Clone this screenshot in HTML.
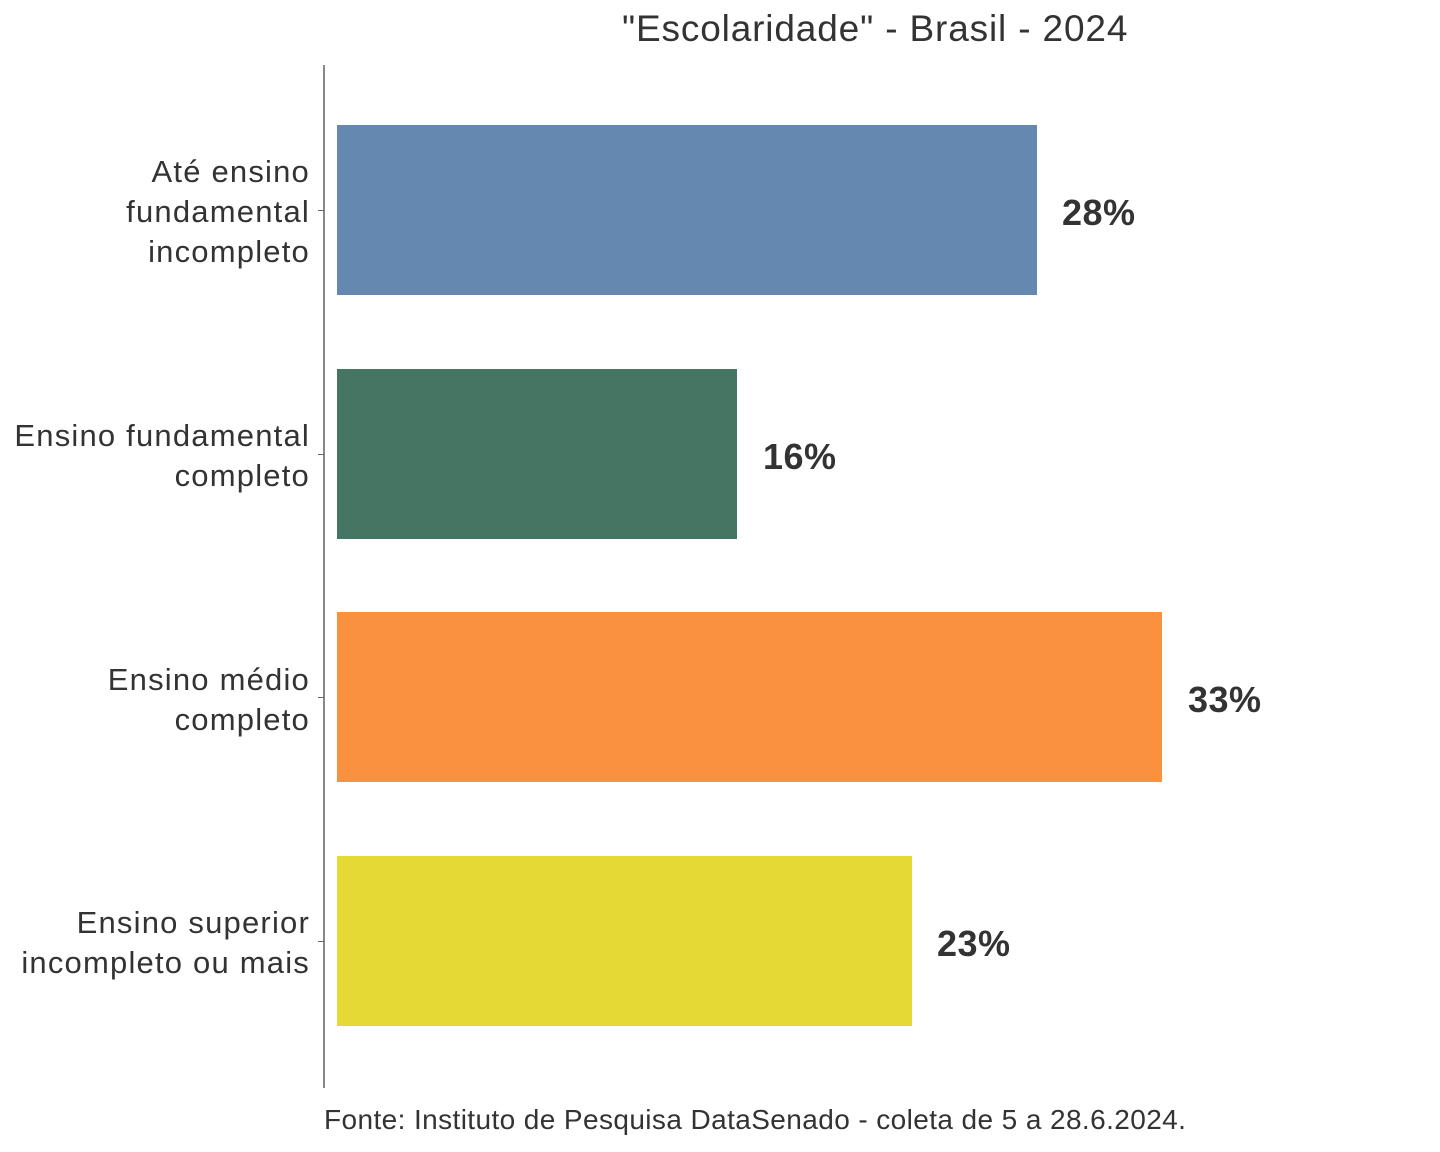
<!DOCTYPE html>
<html><head><meta charset="utf-8"><style>
body{margin:0;width:1440px;height:1152px;background:#fff;font-family:"Liberation Sans",sans-serif;color:#333;position:relative;overflow:hidden}
div{position:absolute}
.l{right:1130px;text-align:right;font-size:31px;letter-spacing:1.2px;line-height:40px;color:#333;white-space:nowrap}
.v{font-size:36px;font-weight:bold;color:#333;letter-spacing:0.5px}
.t{width:6px;height:1px;background:#666;left:318px}
</style></head><body>
<div style="left:622px;top:8px;font-size:37px;letter-spacing:0.85px;white-space:nowrap">"Escolaridade" - Brasil - 2024</div>
<div style="left:323px;top:65px;width:2px;height:1023px;background:#888"></div>
<div style="left:337px;top:125px;width:700px;height:170px;background:#6588b0"></div>
<div style="left:337px;top:369px;width:400px;height:170px;background:#457563"></div>
<div style="left:337px;top:612px;width:825px;height:170px;background:#fa913e"></div>
<div style="left:337px;top:856px;width:575px;height:170px;background:#e5d935"></div>
<div class="v" style="left:1062px;top:192px">28%</div>
<div class="v" style="left:763px;top:436px">16%</div>
<div class="v" style="left:1188px;top:679px">33%</div>
<div class="v" style="left:937px;top:923px">23%</div>
<div class="t" style="top:210px"></div><div class="t" style="top:454px"></div><div class="t" style="top:697px"></div><div class="t" style="top:941px"></div>
<div class="l" style="top:152px">Até ensino<br>fundamental<br>incompleto</div>
<div class="l" style="top:416px">Ensino fundamental<br>completo</div>
<div class="l" style="top:660px">Ensino médio<br>completo</div>
<div class="l" style="top:903px">Ensino superior<br>incompleto ou mais</div>
<div style="left:324px;top:1104px;font-size:28px;letter-spacing:0.4px;white-space:nowrap">Fonte: Instituto de Pesquisa DataSenado - coleta de 5 a 28.6.2024.</div>
</body></html>
